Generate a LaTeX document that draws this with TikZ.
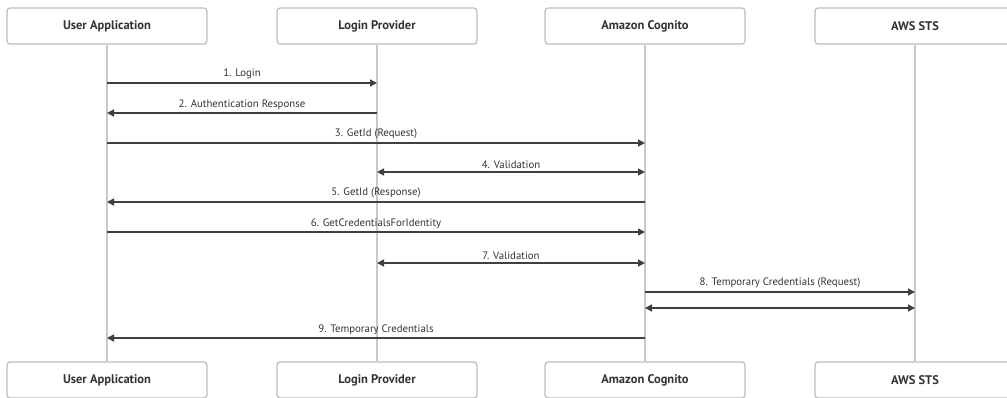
\documentclass[tikz,border=0pt]{standalone}
\usepackage{fontspec}
\setmainfont{PT Sans}
\usetikzlibrary{arrows.meta}
\definecolor{boxline}{HTML}{BDBDBD}
\definecolor{lifeline}{HTML}{C8C8C8}
\definecolor{msgline}{HTML}{3F3F3F}
\definecolor{txt}{HTML}{333333}
\tikzset{
  actor/.style={draw=boxline, line width=1.2pt, rounded corners=3pt, fill=white,
    minimum width=200pt, minimum height=36pt, inner sep=0pt,
    font=\fontsize{12.5}{14}\selectfont\bfseries, text=txt},
  life/.style={draw=lifeline, line width=1.2pt},
  msg/.style={draw=msgline, line width=1.5pt, -{Triangle[length=7pt,width=7pt]}},
  msgboth/.style={draw=msgline, line width=1.5pt, {Triangle[length=7pt,width=7pt]}-{Triangle[length=7pt,width=7pt]}},
  lbl/.style={font=\fontsize{10.8}{12}\selectfont, text=txt, above=3pt, inner sep=0pt}
}
\begin{document}
\begin{tikzpicture}[x=1pt,y=-1pt]
\useasboundingbox (0,0) rectangle (1007,398);
\clip (0,0) rectangle (1007,398);
% participant heads
\node[actor] (uaT) at (107,26) {User Application};
\node[actor] (lpT) at (377,26) {Login Provider};
\node[actor] (acT) at (645,26) {Amazon Cognito};
\node[actor] (stT) at (915,26) {AWS STS};
% participant feet
\node[actor] (uaB) at (107,380) {User Application};
\node[actor] (lpB) at (377,380) {Login Provider};
\node[actor] (acB) at (645,380) {Amazon Cognito};
\node[actor] (stB) at (915,380) {AWS STS};
% lifelines
\draw[life] (uaT.south) -- (uaB.north);
\draw[life] (lpT.south) -- (lpB.north);
\draw[life] (acT.south) -- (acB.north);
\draw[life] (stT.south) -- (stB.north);
% messages
\draw[msg] (uaT.south |- 0,83) -- node[lbl] {1. Login} (lpT.south |- 0,83);
\draw[msg] (lpT.south |- 0,113) -- node[lbl] {2. Authentication Response} (uaT.south |- 0,113);
\draw[msg] (uaT.south |- 0,143) -- node[lbl] {3. GetId (Request)} (acT.south |- 0,143);
\draw[msgboth] (lpT.south |- 0,172) -- node[lbl] {4. Validation} (acT.south |- 0,172);
\draw[msg] (acT.south |- 0,202) -- node[lbl] {5. GetId (Response)} (uaT.south |- 0,202);
\draw[msg] (uaT.south |- 0,232) -- node[lbl] {6. GetCredentialsForIdentity} (acT.south |- 0,232);
\draw[msgboth] (lpT.south |- 0,263) -- node[lbl] {7. Validation} (acT.south |- 0,263);
\draw[msg] (acT.south |- 0,292) -- node[lbl] {8. Temporary Credentials (Request)} (stT.south |- 0,292);
\draw[msgboth] (acT.south |- 0,308) -- (stT.south |- 0,308);
\draw[msg] (acT.south |- 0,338) -- node[lbl] {9. Temporary Credentials} (uaT.south |- 0,338);
\end{tikzpicture}
\end{document}
